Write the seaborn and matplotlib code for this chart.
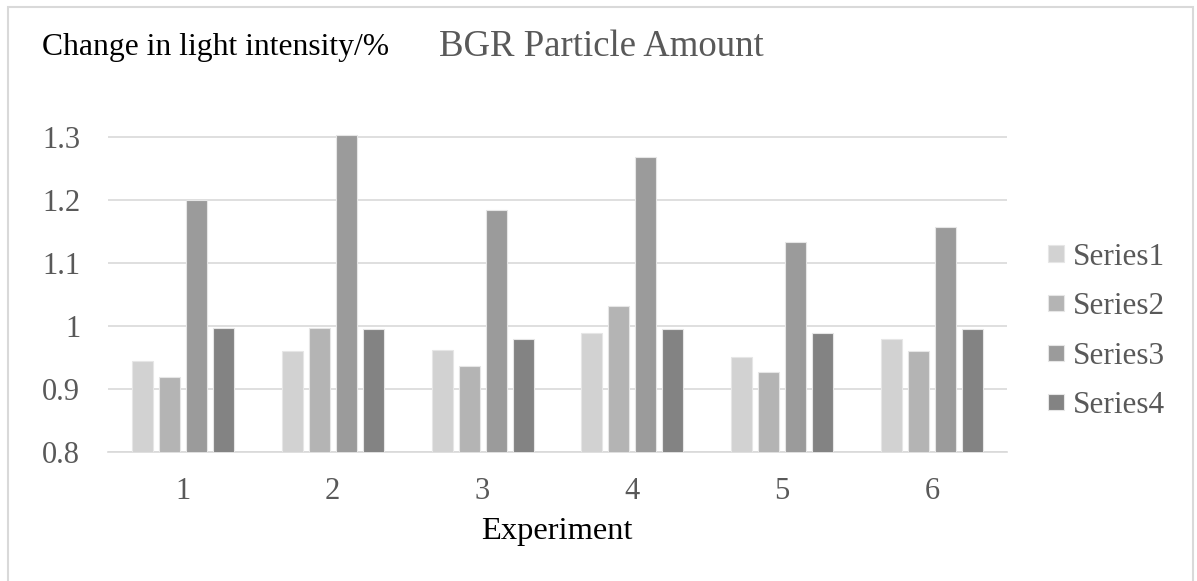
import matplotlib
matplotlib.use("Agg")
import matplotlib.pyplot as plt
import seaborn as sns
import pandas as pd
from matplotlib.patches import Rectangle

experiments = ["1", "2", "3", "4", "5", "6"]
series_names = ["Series1", "Series2", "Series3", "Series4"]
series1 = [0.944, 0.960, 0.962, 0.988, 0.950, 0.980]
series2 = [0.919, 0.996, 0.937, 1.031, 0.927, 0.960]
series3 = [1.200, 1.303, 1.184, 1.268, 1.133, 1.158]
series4 = [0.996, 0.995, 0.979, 0.995, 0.988, 0.995]
yticks = [0.8, 0.9, 1.0, 1.1, 1.2, 1.3]
ytick_labels = ["0.8", "0.9", "1", "1.1", "1.2", "1.3"]
colors = ["#d2d2d2", "#b4b4b4", "#9b9b9b", "#838383"]

rows = []
for name, vals in zip(series_names, [series1, series2, series3, series4]):
    for e, v in zip(experiments, vals):
        rows.append({"Experiment": e, "Series": name, "Value": v})
df = pd.DataFrame(rows)

sns.set_theme(style="white")
plt.rcParams["font.family"] = ["Liberation Serif", "DejaVu Serif"]

W, H = 1197, 581
fig = plt.figure(figsize=(W / 100, H / 100), dpi=100)
ax = fig.add_axes([108 / W, (H - 451.7) / H, (1007 - 108) / W, (451.7 - 124.7) / H])

sns.barplot(data=df, x="Experiment", y="Value", hue="Series", order=experiments,
            hue_order=series_names, palette=colors, width=0.72, gap=0.22,
            edgecolor="#e6e6e6", linewidth=0.8, ax=ax, legend=True, zorder=3)

ax.set_ylim(0.8, 1.32)
ax.set_xlim(-0.5, 5.5)
ax.set_yticks(yticks)
ax.set_yticklabels(ytick_labels)
ax.yaxis.grid(True, color="#d9d9d9", linewidth=1.2, zorder=0)
ax.set_axisbelow(True)
for s in ["left", "right", "top"]:
    ax.spines[s].set_visible(False)
ax.spines["bottom"].set_color("#d9d9d9")
ax.spines["bottom"].set_linewidth(1.2)
ax.tick_params(axis="both", length=0, colors="#595959", labelsize=22)
ax.tick_params(axis="y", pad=20)
ax.tick_params(axis="x", pad=18)
ax.set_xlabel("")
ax.set_ylabel("")

handles, labels = ax.get_legend_handles_labels()
ax.legend_.remove()
leg = fig.legend(handles, labels, loc="center left", bbox_to_anchor=(1035 / W, (H - 331.5) / H),
                 frameon=False, fontsize=22.5, labelcolor="#595959", handlelength=0.54,
                 handleheight=0.42, handletextpad=0.26, labelspacing=0.66, borderaxespad=0)

fig.text(42 / W, (H - 47) / H, "Change in light intensity/%", ha="left", va="center",
         fontsize=22.8, color="black")
fig.text(601 / W, (H - 47) / H, "BGR Particle Amount", ha="center", va="center",
         fontsize=26.5, color="#595959")
fig.text(557 / W, (H - 532) / H, "Experiment", ha="center", va="center",
         fontsize=23.4, color="black")

fig.patches.append(Rectangle((8 / W, -0.05), (1193 - 8) / W, (H - 7) / H + 0.05,
                             transform=fig.transFigure, fill=False,
                             edgecolor="#d9d9d9", linewidth=1.5))

fig.savefig("out.png", dpi=100, facecolor="white")
